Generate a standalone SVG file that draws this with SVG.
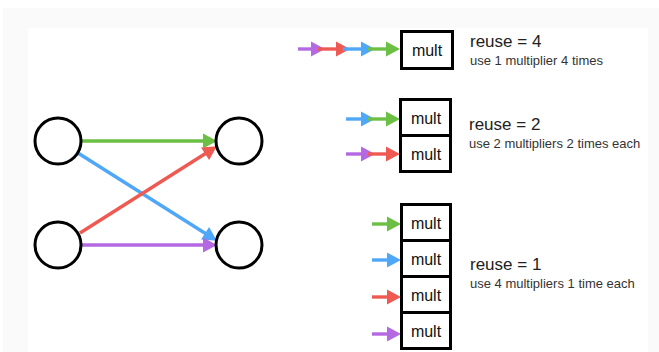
<svg xmlns="http://www.w3.org/2000/svg" width="659" height="352" viewBox="0 0 659 352">
  <style>
    .node { fill: #fff; stroke: #000; stroke-width: 3; }
    .box { fill: #fff; stroke: #000; stroke-width: 3; }
    .edge { fill: none; stroke-width: 3.4; }
    .g { stroke: #6cbf45; }
    .b { stroke: #4fa7f7; }
    .r { stroke: #ee5a52; }
    .p { stroke: #b468e2; }
    .lbl { font-family: "Liberation Sans", Arial, sans-serif; font-size: 16px; fill: #111; text-anchor: middle; }
    .title { font-family: "Liberation Sans", Arial, sans-serif; font-size: 17px; fill: #222; }
    .sub { font-family: "Liberation Sans", Arial, sans-serif; font-size: 13px; fill: #333; }
  </style>
  <defs>
    <marker id="hg" markerUnits="userSpaceOnUse" markerWidth="15" markerHeight="15" refX="7" refY="7.5" orient="auto" overflow="visible">
      <path d="M0,0 L14,7.5 L0,15 z" fill="#6cbf45"/>
    </marker>
    <marker id="hb" markerUnits="userSpaceOnUse" markerWidth="15" markerHeight="15" refX="7" refY="7.5" orient="auto" overflow="visible">
      <path d="M0,0 L14,7.5 L0,15 z" fill="#4fa7f7"/>
    </marker>
    <marker id="hr" markerUnits="userSpaceOnUse" markerWidth="15" markerHeight="15" refX="7" refY="7.5" orient="auto" overflow="visible">
      <path d="M0,0 L14,7.5 L0,15 z" fill="#ee5a52"/>
    </marker>
    <marker id="hp" markerUnits="userSpaceOnUse" markerWidth="15" markerHeight="15" refX="7" refY="7.5" orient="auto" overflow="visible">
      <path d="M0,0 L14,7.5 L0,15 z" fill="#b468e2"/>
    </marker>
  </defs>

  <!-- page backdrop -->
  <rect x="0" y="0" width="659" height="352" fill="#fff"/>
  <rect x="3" y="8" width="656" height="344" fill="#fafafa"/>
  <rect x="28" y="28" width="620" height="324" fill="#fff"/>

  <!-- graph connectors -->
  <g id="connectors">
    <line class="edge g" x1="81" y1="141" x2="210" y2="141" marker-end="url(#hg)"/>
    <line class="edge b" x1="78" y1="153" x2="211" y2="237" marker-end="url(#hb)"/>
    <line class="edge r" x1="80" y1="233" x2="211" y2="150" marker-end="url(#hr)"/>
    <line class="edge p" x1="81" y1="245" x2="210" y2="245" marker-end="url(#hp)"/>

    <!-- reuse = 4 input chain -->
    <line class="edge p" x1="298" y1="49" x2="318" y2="49" marker-end="url(#hp)"/>
    <line class="edge r" x1="318" y1="49" x2="343" y2="49" marker-end="url(#hr)"/>
    <line class="edge b" x1="343" y1="49" x2="368" y2="49" marker-end="url(#hb)"/>
    <line class="edge g" x1="368" y1="49" x2="393" y2="49" marker-end="url(#hg)"/>

    <!-- reuse = 2 inputs -->
    <line class="edge b" x1="346" y1="119" x2="368" y2="119" marker-end="url(#hb)"/>
    <line class="edge g" x1="368" y1="119" x2="393" y2="119" marker-end="url(#hg)"/>
    <line class="edge p" x1="346" y1="154" x2="368" y2="154" marker-end="url(#hp)"/>
    <line class="edge r" x1="368" y1="154" x2="393" y2="154" marker-end="url(#hr)"/>

    <!-- reuse = 1 inputs -->
    <line class="edge g" x1="372" y1="224" x2="394" y2="224" marker-end="url(#hg)"/>
    <line class="edge b" x1="372" y1="260" x2="394" y2="260" marker-end="url(#hb)"/>
    <line class="edge r" x1="372" y1="297" x2="394" y2="297" marker-end="url(#hr)"/>
    <line class="edge p" x1="372" y1="334" x2="394" y2="334" marker-end="url(#hp)"/>
  </g>

  <!-- graph nodes -->
  <g id="in1"><circle class="node" cx="58" cy="141" r="23"/></g>
  <g id="in2"><circle class="node" cx="58" cy="245" r="23"/></g>
  <g id="out1"><circle class="node" cx="239" cy="141" r="23"/></g>
  <g id="out2"><circle class="node" cx="239" cy="245" r="23"/></g>

  <!-- reuse = 4 -->
  <g id="mult4">
    <rect class="box" x="401.5" y="31.5" width="51" height="37"/>
    <text class="lbl" x="427" y="56">mult</text>
  </g>
  <g id="reuse4">
    <text class="title" x="470" y="47">reuse = 4</text>
    <text class="sub" x="470" y="65">use 1 multiplier 4 times</text>
  </g>

  <!-- reuse = 2 -->
  <g id="mult2a">
    <rect class="box" x="400.5" y="99.5" width="50" height="36"/>
    <text class="lbl" x="426" y="124">mult</text>
  </g>
  <g id="mult2b">
    <rect class="box" x="400.5" y="135.5" width="50" height="36"/>
    <text class="lbl" x="426" y="160">mult</text>
  </g>
  <g id="reuse2">
    <text class="title" x="469" y="130">reuse = 2</text>
    <text class="sub" x="469" y="148">use 2 multipliers 2 times each</text>
  </g>

  <!-- reuse = 1 -->
  <g id="mult1a">
    <rect class="box" x="401.5" y="204.5" width="49" height="36"/>
    <text class="lbl" x="426" y="229">mult</text>
  </g>
  <g id="mult1b">
    <rect class="box" x="401.5" y="240.5" width="49" height="36"/>
    <text class="lbl" x="426" y="265">mult</text>
  </g>
  <g id="mult1c">
    <rect class="box" x="401.5" y="276.5" width="49" height="36"/>
    <text class="lbl" x="426" y="301">mult</text>
  </g>
  <g id="mult1d">
    <rect class="box" x="401.5" y="312.5" width="49" height="36"/>
    <text class="lbl" x="426" y="337">mult</text>
  </g>
  <g id="reuse1">
    <text class="title" x="470" y="270">reuse = 1</text>
    <text class="sub" x="470" y="288">use 4 multipliers 1 time each</text>
  </g>
</svg>
